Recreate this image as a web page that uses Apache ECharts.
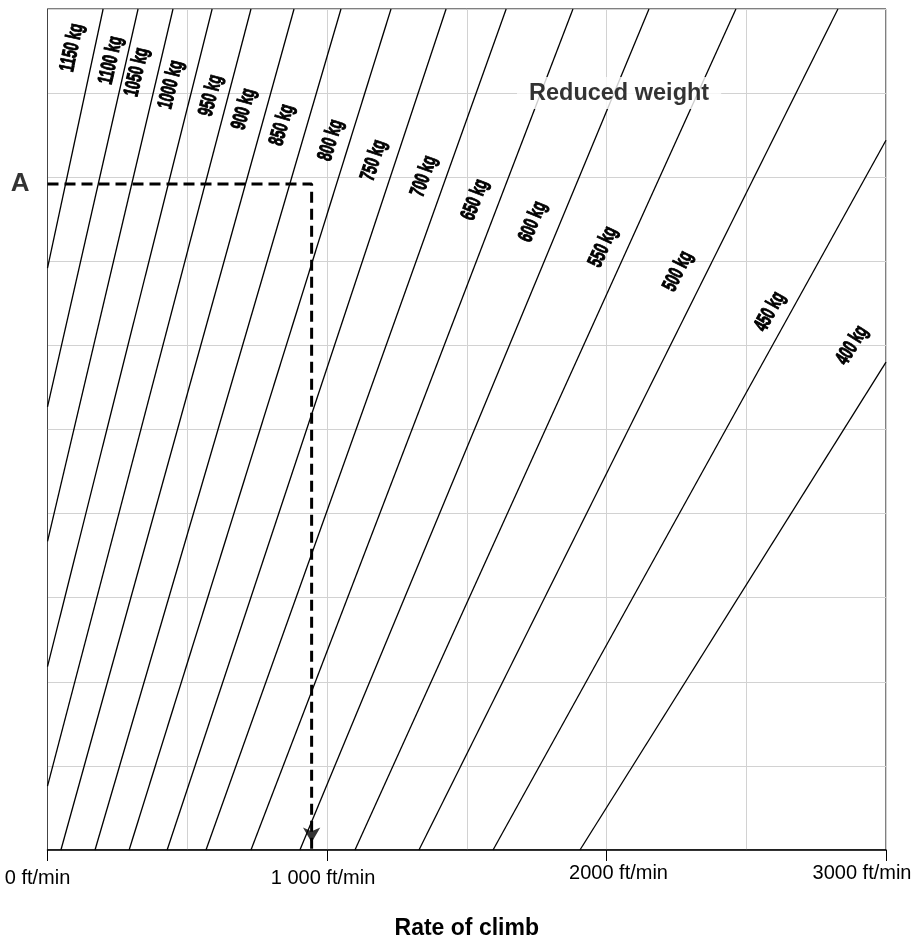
<!DOCTYPE html>
<html><head><meta charset="utf-8">
<script src="https://cdn.jsdelivr.net/npm/echarts@6/dist/echarts.min.js"></script>
<style>html,body{margin:0;padding:0;background:#fff}#c{width:918px;height:941px}</style>
</head><body><div id="c"></div>
<script>
// ---- data ----
const weightLabels = ['1150 kg','1100 kg','1050 kg','1000 kg','950 kg','900 kg','850 kg','800 kg','750 kg','700 kg','650 kg','600 kg','550 kg','500 kg','450 kg','400 kg'];
// start point of each weight line [rate ft/min, height units]
const lineStart = [[0,6.92],[0,5.27],[0,3.67],[0,2.18],[0,0.76],[48,0],[170,0],[292,0],[428,0],[567,0],[728,0],[903,0],[1100,0],[1329,0],[1594,0],[1905,0]];
// end point of each weight line
const lineEnd = [[199,10],[324,10],[449,10],[589,10],[728,10],[882,10],[1050,10],[1229,10],[1426,10],[1641,10],[1880,10],[2152,10],[2463,10],[2828,10],[3000,8.44],[3000,5.80]];
// where each weight label sits
const labelAnchor = [[88,9.54],[227,9.39],[320,9.25],[442,9.10],[585,8.97],[703,8.81],[839,8.62],[1014,8.44],[1168,8.20],[1347,8.01],[1530,7.73],[1737,7.47],[1988,7.17],[2256,6.88],[2585,6.40],[2879,6.00]];
const xTickValues = [0,1000,2000,3000];
const xTickLabels = ['0 ft/min','1 000 ft/min','2000 ft/min','3000 ft/min'];
const pointALabel = 'A';
const pointA = [0,7.92];
const readRate = 945;
const annotationText = 'Reduced weight';
const annotationAnchor = [2045,9.0];
const xTitle = 'Rate of climb';

// ---- chart ----
const chart = echarts.init(document.getElementById('c'), null, {renderer:'canvas'});
const FONT = '"Liberation Sans", Arial, sans-serif';
const GRIDC = '#d2d2d2';

const series = [];
weightLabels.forEach((w,i)=>{
  series.push({
    type:'line', name:w, data:[lineStart[i], lineEnd[i]],
    symbol:'none', silent:true, animation:false, z:2,
    lineStyle:{color:'#000', width:1.3}
  });
});
const pathData = [pointA, [readRate, pointA[1]], [readRate, 0]];
series.push({
  type:'line', data:pathData, symbol:'none', silent:true, animation:false, z:4,
  lineStyle:{color:'#000', width:3, type:[11,6]}
});
series.push({
  type:'scatter', data:[[readRate,0]], symbol:'arrow', symbolRotate:180,
  symbolSize:[13,15], symbolOffset:[0,-7.5], silent:true, animation:false, z:5,
  itemStyle:{color:'#000'}
});
series.push({
  type:'scatter', data:[pointA], symbolSize:0, silent:true, animation:false, z:5,
  label:{show:true, formatter:pointALabel, position:'left', distance:18,
    fontSize:26, fontWeight:'bold', fontFamily:FONT, color:'#000'}
});
series.push({
  type:'scatter', data:[annotationAnchor], symbolSize:0, silent:true, animation:false, z:7,
  label:{show:true, position:'inside', formatter:annotationText,
    fontSize:23.5, fontWeight:'bold', fontFamily:FONT, color:'#000',
    backgroundColor:'#fff', padding:[4,12]}
});

const richStyles = {
  s0:{padding:[5,20,0,0]},
  s1:{padding:[5,8,0,0]},
  s2:{padding:[0,0,0,24]},
  s3:{padding:[0,48,0,0]}
};

chart.setOption({
  animation:false,
  backgroundColor:'#fff',
  grid:{left:47.5, right:32, top:9, bottom:91, show:true, borderColor:'#000', borderWidth:1,
    containLabel:false, outerBoundsMode:'none'},
  xAxis:{
    type:'value', min:0, max:3000, interval:1000,
    axisLine:{show:true, lineStyle:{color:'#000', width:1.5}},
    axisTick:{show:true, length:11, lineStyle:{color:'#000', width:1}},
    axisLabel:{show:true, margin:13, fontSize:20, fontFamily:FONT, color:'#000',
      showMinLabel:true, showMaxLabel:true,
      formatter:v=>{const i=xTickValues.indexOf(v); return i<0?'':'{s'+i+'|'+xTickLabels[i]+'}';},
      rich:richStyles},
    splitLine:{show:true, lineStyle:{color:GRIDC, width:1}},
    minorTick:{show:false, splitNumber:2},
    minorSplitLine:{show:true, lineStyle:{color:GRIDC, width:1}},
    name:xTitle, nameLocation:'middle', nameGap:67,
    nameTextStyle:{fontSize:23, fontWeight:'bold', fontFamily:FONT, color:'#000'}
  },
  yAxis:{
    type:'value', min:0, max:10, interval:1,
    axisLine:{show:true, lineStyle:{color:'#444', width:1}},
    axisTick:{show:false}, axisLabel:{show:false},
    splitLine:{show:true, lineStyle:{color:GRIDC, width:1}}
  },
  series: series
});

// weight labels: condensed heavy text, parallel to their lines, placed via the grid's scales
const labelEls = labelAnchor.map((p,i)=>{
  const a = chart.convertToPixel({gridIndex:0}, lineStart[i]);
  const b = chart.convertToPixel({gridIndex:0}, lineEnd[i]);
  const c = chart.convertToPixel({gridIndex:0}, p);
  const ang = Math.atan2(a[1]-b[1], b[0]-a[0]);
  return {
    type:'text', x:c[0], y:c[1], rotation:ang, scaleX:0.64, scaleY:1, z:10, silent:true,
    style:{text:weightLabels[i], fill:'#000', stroke:'#000', lineWidth:1,
      fontSize:21, fontWeight:'bold', fontFamily:FONT,
      align:'center', verticalAlign:'middle', textAlign:'center', textVerticalAlign:'middle'}
  };
});
chart.setOption({graphic:{elements:labelEls}});
</script></body></html>
